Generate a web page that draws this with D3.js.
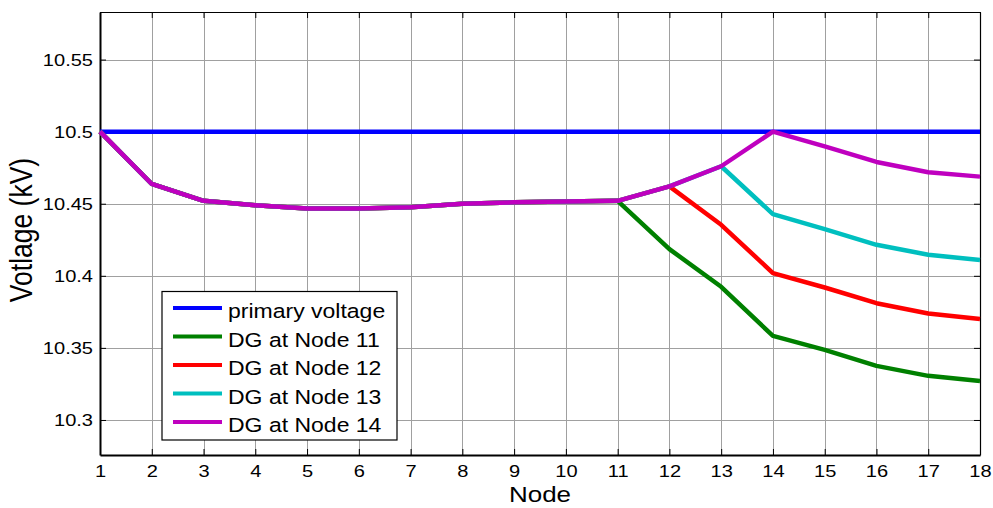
<!DOCTYPE html>
<html>
<head>
<meta charset="utf-8">
<script src="https://cdn.jsdelivr.net/npm/d3@7"></script>
<style>
  body { margin: 0; background: #fff; }
  svg { display: block; font-family: "Liberation Sans", Arial, sans-serif; }
</style>
</head>
<body>
<svg id="chart" width="993" height="508"></svg>
<script>
// Node numbers along the feeder
const nodes = d3.range(1, 19);

// Voltage profile (kV) per scenario
const primaryVoltage = [10.5, 10.5, 10.5, 10.5, 10.5, 10.5, 10.5, 10.5, 10.5, 10.5, 10.5, 10.5, 10.5, 10.5, 10.5, 10.5, 10.5, 10.5];
const dgNode11 = [10.5, 10.4637, 10.452, 10.449, 10.4467, 10.4467, 10.4475, 10.450, 10.451, 10.4515, 10.452, 10.4185, 10.3924, 10.3583, 10.3486, 10.3375, 10.3306, 10.3271];
const dgNode12 = [10.5, 10.4637, 10.452, 10.449, 10.4467, 10.4467, 10.4475, 10.450, 10.451, 10.4515, 10.452, 10.462, 10.4354, 10.4019, 10.3919, 10.381, 10.3738, 10.370];
const dgNode13 = [10.5, 10.4637, 10.452, 10.449, 10.4467, 10.4467, 10.4475, 10.450, 10.451, 10.4515, 10.452, 10.462, 10.476, 10.4428, 10.4324, 10.4215, 10.4146, 10.411];
const dgNode14 = [10.5, 10.4637, 10.452, 10.449, 10.4467, 10.4467, 10.4475, 10.450, 10.451, 10.4515, 10.452, 10.462, 10.476, 10.500, 10.4898, 10.479, 10.4718, 10.4688];

const seriesNames = ["primary voltage", "DG at Node 11", "DG at Node 12", "DG at Node 13", "DG at Node 14"];
const seriesValues = [primaryVoltage, dgNode11, dgNode12, dgNode13, dgNode14];
const seriesColors = ["#0000ff", "#008000", "#ff0000", "#00bfbf", "#bf00bf"];

const yTicks = [10.3, 10.35, 10.4, 10.45, 10.5, 10.55];
const yTickLabels = ["10.3", "10.35", "10.4", "10.45", "10.5", "10.55"];

const svg = d3.select("#chart");
const plotLeft = 100, plotRight = 980, plotTop = 12, plotBottom = 455;
const stretch = 1.18; // wide glyph proportions for all text

const x = d3.scaleLinear().domain([1, 18]).range([plotLeft, plotRight]);
const y = d3.scaleLinear().domain([10.2757, 10.583]).range([plotBottom, plotTop]);

// grid
const grid = svg.append("g").attr("stroke", "#a0a0a0").attr("stroke-width", 1);
grid.selectAll("line.v").data(nodes.slice(1, -1)).join("line")
  .attr("x1", d => Math.round(x(d)) + 0.5).attr("x2", d => Math.round(x(d)) + 0.5)
  .attr("y1", plotTop).attr("y2", plotBottom);
grid.selectAll("line.h").data(yTicks).join("line")
  .attr("x1", plotLeft).attr("x2", plotRight)
  .attr("y1", d => Math.round(y(d)) + 0.5).attr("y2", d => Math.round(y(d)) + 0.5);

// axes with inward ticks
const xAxisBottom = d3.axisBottom(x).tickValues(nodes).tickFormat(d3.format("d")).tickSizeInner(-6).tickSizeOuter(0).tickPadding(10);
const xAxisTop = d3.axisTop(x).tickValues(nodes).tickFormat("").tickSizeInner(-6).tickSizeOuter(0);
const yAxisLeft = d3.axisLeft(y).tickValues(yTicks).tickFormat((d, i) => yTickLabels[i]).tickSizeInner(-6).tickSizeOuter(0).tickPadding(7);
const yAxisRight = d3.axisRight(y).tickValues(yTicks).tickFormat("").tickSizeInner(-6).tickSizeOuter(0);

function styleAxis(g, w) {
  g.select(".domain").attr("stroke", "#000").attr("stroke-width", w);
  g.selectAll(".tick line").attr("stroke", "#000").attr("stroke-width", 1);
  g.selectAll(".tick text").attr("fill", "#000").attr("font-size", 17)
    .attr("font-family", "'Liberation Sans', Arial, sans-serif")
    .each(function () {
      const t = d3.select(this);
      const tx = +t.attr("x") || 0;
      t.attr("x", tx / stretch).attr("transform", `scale(${stretch},1)`);
    });
}
svg.append("g").attr("transform", `translate(0,${plotTop})`).call(xAxisTop).call(g => styleAxis(g, 1.2));
svg.append("g").attr("transform", `translate(${plotRight},0)`).call(yAxisRight).call(g => styleAxis(g, 1.2));
svg.append("g").attr("transform", `translate(0,${plotBottom})`).call(xAxisBottom).call(g => styleAxis(g, 2));
svg.append("g").attr("transform", `translate(${plotLeft},0)`).call(yAxisLeft).call(g => styleAxis(g, 2));

// voltage curves
const line = d3.line().x((d, i) => x(nodes[i])).y(d => y(d));
svg.append("g").selectAll("path").data(seriesValues).join("path")
  .attr("d", d => line(d))
  .attr("fill", "none")
  .attr("stroke", (d, i) => seriesColors[i])
  .attr("stroke-width", 4.5)
  .attr("stroke-linejoin", "round");

// axis titles
svg.append("text").attr("transform", `translate(${(plotLeft + plotRight) / 2},501.5) scale(${stretch},1)`)
  .attr("text-anchor", "middle").attr("font-size", 22).attr("fill", "#000").text("Node");
svg.append("text").attr("transform", `translate(32,230) scale(${stretch},1) rotate(-90)`)
  .attr("text-anchor", "middle").attr("font-size", 26.5).attr("fill", "#000").text("Votlage (kV)");

// legend
const lg = svg.append("g").attr("transform", "translate(162,291.5)");
lg.append("rect").attr("width", 235).attr("height", 148.5)
  .attr("fill", "#fff").attr("stroke", "#000").attr("stroke-width", 1.2);
const rows = lg.selectAll("g.row").data(seriesNames).join("g")
  .attr("transform", (d, i) => `translate(0,${16.5 + i * 28.5})`);
rows.append("line").attr("x1", 11).attr("x2", 60).attr("y1", 0).attr("y2", 0)
  .attr("stroke", (d, i) => seriesColors[i]).attr("stroke-width", 4);
rows.append("text").attr("transform", `translate(66,10) scale(${stretch},1)`)
  .attr("font-size", 19.5).attr("fill", "#000").text(d => d);
</script>
</body>
</html>
